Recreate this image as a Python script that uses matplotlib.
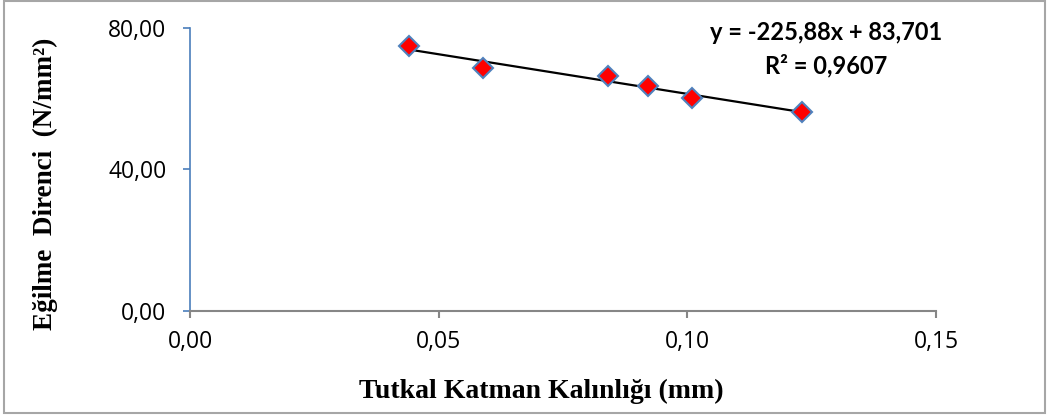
import matplotlib.pyplot as plt
import matplotlib.ticker as mticker
import numpy as np

# veriler
kalinlik = [0.044, 0.059, 0.084, 0.092, 0.101, 0.123]
direnc = [74.9, 68.6, 66.4, 63.6, 60.2, 56.3]

x_ticks = [0.00, 0.05, 0.10, 0.15]
y_ticks = [0, 40, 80]

denklem = 'y = -225,88x + 83,701'
r_kare = 'R² = 0,9607'

fig = plt.figure(figsize=(10.48, 4.16), dpi=100)
ax = fig.add_axes([0.1813, 0.2524, 0.7118, 0.6803])

# cerceve
fig.patches.append(plt.Rectangle((0.004, 0.007), 0.993, 0.99, transform=fig.transFigure,
                                 fill=False, edgecolor='#a6a6a6', linewidth=1.5))

# trend cizgisi
egim, sabit = np.polyfit(kalinlik, direnc, 1)
xx = np.array([min(kalinlik), max(kalinlik)])
ax.plot(xx, egim * xx + sabit, color='black', linewidth=1.6, zorder=2)

ax.plot(kalinlik, direnc, linestyle='none', marker='D', markersize=10,
        markerfacecolor='red', markeredgecolor='#4f81bd', markeredgewidth=1.5, zorder=3)

ax.set_xlim(0, 0.15)
ax.set_ylim(0, 80)
ax.set_xticks(x_ticks)
ax.set_yticks(y_ticks)
virgul = mticker.FuncFormatter(lambda v, p: f'{v:.2f}'.replace('.', ','))
ax.xaxis.set_major_formatter(virgul)
ax.yaxis.set_major_formatter(virgul)

for s in ['top', 'right']:
    ax.spines[s].set_visible(False)
ax.spines['left'].set_color('#4a7ebb')
ax.spines['bottom'].set_color('#868686')
ax.spines['left'].set_linewidth(1.2)
ax.spines['bottom'].set_linewidth(1.5)
ax.tick_params(axis='y', colors='#4a7ebb', length=5, width=1.2, labelcolor='black', pad=12)
ax.tick_params(axis='x', colors='#868686', length=5, width=1.5, labelcolor='black', pad=9)
for lab in ax.get_xticklabels() + ax.get_yticklabels():
    lab.set_fontfamily('Open Sans')
    lab.set_fontsize(16.5)

fig.text(541 / 1048, 1 - 391 / 416, 'Tutkal Katman Kalınlığı (mm)', fontfamily='Liberation Serif',
         fontweight='bold', fontsize=20, ha='center', va='center')
fig.text(45 / 1048, 1 - 184 / 416, 'Eğilme  Direnci  (N/mm²)', fontfamily='Liberation Serif',
         fontweight='bold', fontsize=19.5, ha='center', va='center', rotation=90)

ax.text(0.1279, 78.6, denklem, ha='center', va='center',
        fontfamily='Lato', fontweight='bold', fontsize=17)
ax.text(0.1279, 69.5, r_kare, ha='center', va='center',
        fontfamily='Lato', fontweight='bold', fontsize=17)

fig.savefig('out.png', dpi=100)
